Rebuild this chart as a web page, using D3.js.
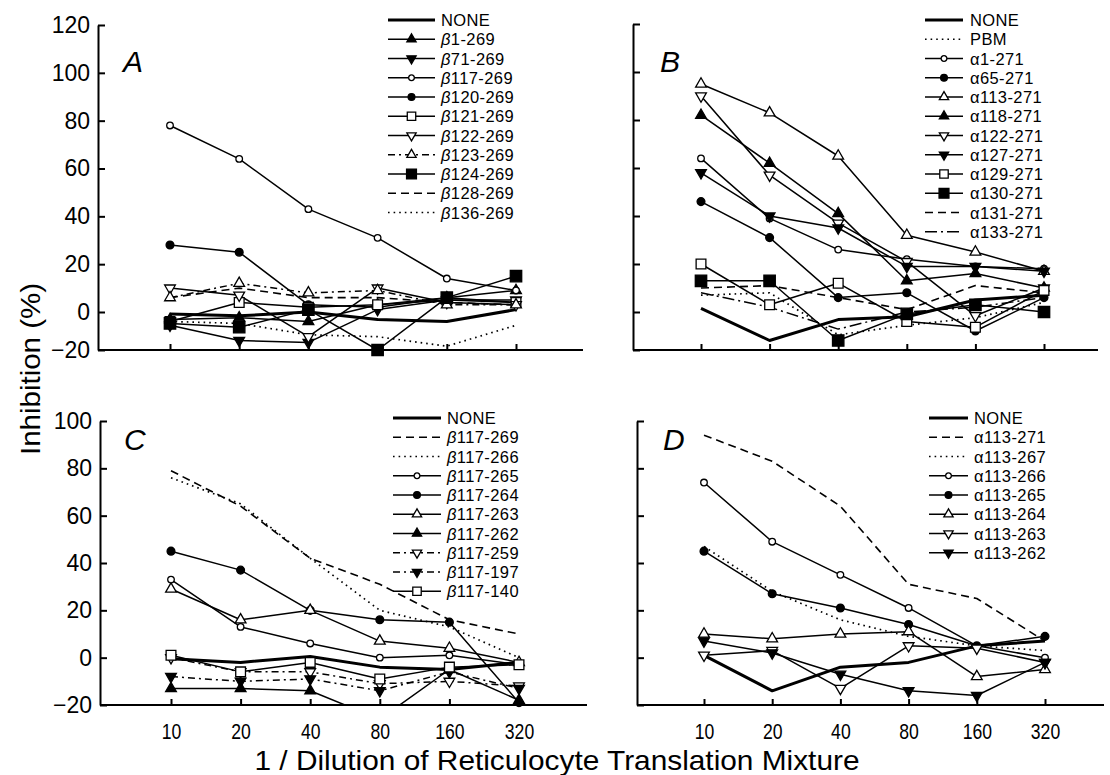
<!DOCTYPE html>
<html>
<head>
<meta charset="utf-8">
<script src="https://cdn.jsdelivr.net/npm/d3@7"></script>
<style>
  body { margin: 0; background: #fff; }
  svg { display: block; font-family: "Liberation Sans", Arial, sans-serif; }
</style>
</head>
<body>
<div id="chart"></div>
<script>
// x categories and y ticks
const dilutions = ["10", "20", "40", "80", "160", "320"];
const ticksTop = [-20, 0, 20, 40, 60, 80, 100, 120];
const ticksBottom = [-20, 0, 20, 40, 60, 80, 100];

// Panel A
const namesA = ["NONE", "β1-269", "β71-269", "β117-269", "β120-269", "β121-269",
  "β122-269", "β123-269", "β124-269", "β128-269", "β136-269"];
const valuesA = [
  [-1, -2, 0, -4, -5, 1],
  [-4, -3, -5, 3, 6, 9],
  [-7, -15, -16, 1, 5, 5],
  [78, 64, 43, 31, 14, 9],
  [28, 25, 3, 2, 6, 4],
  [-5, 4, 2, 3, 5, 4],
  [10, 7, -13, 10, 4, 3],
  [6, 12, 8, 9, 3, 3],
  [-6, -8, 1, -20, 6, 15],
  [6, 10, 6, 6, 4, 3],
  [-5, -6, -12, -13, -18, -7]
];

// Panel B
const namesB = ["NONE", "PBM", "α1-271", "α65-271", "α113-271", "α118-271", "α122-271",
  "α127-271", "α129-271", "α130-271", "α131-271", "α133-271"];
const valuesB = [
  [1.5, -15, -4, -2.5, 5, 7],
  [7, 8, -12, -7, -3, 4],
  [64, 39, 26, 22, 19, 18],
  [46, 31, 6, 8, -10, 6],
  [95, 83, 65, 32, 25, 17],
  [82, 62, 41, 13, 16, 10],
  [90, 57, 37, 21, -2, 10],
  [58, 40, 35, 19, 19, 17],
  [20, 3, 12, -5, -8, 9],
  [13, 13, -15, -1, 3, 0],
  [10, 11, 6, 1, 11, 8],
  [8, 2, -9, 0, 2, 6]
];

// Panel C
const namesC = ["NONE", "β117-269", "β117-266", "β117-265", "β117-264", "β117-263",
  "β117-262", "β117-259", "β117-197", "β117-140"];
const valuesC = [
  [-0.5, -2, 0.5, -4, -5, -2],
  [79, 64, 42, 31, 16, 10],
  [76, 65, 42, 20, 13, 0],
  [33, 13, 6, 0, 1, -3],
  [45, 37, 20, 16, 15, -19],
  [29, 16, 20, 7, 4, -2],
  [-13, -13, -14, -26, -5, -18],
  [0, -6, -6, -11, -10, -12],
  [-8, -10, -9, -14, -6, -13],
  [1, -6, -2, -9, -4, -3]
];

// Panel D
const namesD = ["NONE", "α113-271", "α113-267", "α113-266", "α113-265", "α113-264",
  "α113-263", "α113-262"];
const valuesD = [
  [1, -14, -4, -2, 5, 7],
  [94, 83, 64, 31, 25, 7],
  [47, 28, 16, 9, 5, 3],
  [74, 49, 35, 21, 5, 0],
  [45, 27, 21, 14, 5, 9],
  [10, 8, 10, 11, -8, -5],
  [1, 3, -13, 5, 4, -2],
  [7, 2, -7, -14, -16, -2]
];

// marker and line style of every series
const marksA = [null, "ft", "fd", "oc", "fc", "os", "od", "ot", "fs", null, null];
const linesA = ["thick", "solid", "solid", "solid", "solid", "solid", "solid", "dashdot", "solid", "dash", "dot"];
const marksB = [null, null, "oc", "fc", "ot", "ft", "od", "fd", "os", "fs", null, null];
const linesB = ["thick", "dot", "solid", "solid", "solid", "solid", "solid", "solid", "solid", "solid", "dash", "longdashdot"];
const marksC = [null, null, null, "oc", "fc", "ot", "ft", "od", "fd", "os"];
const linesC = ["thick", "dash", "dot", "solid", "solid", "solid", "solid", "dashdot", "dashdot", "solid"];
const marksD = [null, null, null, "oc", "fc", "ot", "od", "fd"];
const linesD = ["thick", "dash", "dot", "solid", "solid", "solid", "solid", "solid"];

const lineStyle = {
  thick: { w: 3, dash: null },
  solid: { w: 1.5, dash: null },
  dash: { w: 1.6, dash: "8,5" },
  dot: { w: 1.7, dash: "1.6,4" },
  dashdot: { w: 1.5, dash: "7,4,2,4" },
  longdashdot: { w: 1.5, dash: "12,4,2,4" }
};

const markStyle = {
  oc: { type: d3.symbolCircle, size: 34, fill: "#fff", rot: 0 },
  fc: { type: d3.symbolCircle, size: 48, fill: "#000", rot: 0 },
  os: { type: d3.symbolSquare, size: 95, fill: "#fff", rot: 0 },
  fs: { type: d3.symbolSquare, size: 130, fill: "#000", rot: 0 },
  ot: { type: d3.symbolTriangle, size: 50, fill: "#fff", rot: 0 },
  ft: { type: d3.symbolTriangle, size: 50, fill: "#000", rot: 0 },
  od: { type: d3.symbolTriangle, size: 50, fill: "#fff", rot: 180 },
  fd: { type: d3.symbolTriangle, size: 50, fill: "#000", rot: 180 }
};

const svg = d3.select("#chart").append("svg")
  .attr("width", 1110)
  .attr("height", 775);

const panels = [
  { letter: "A", names: namesA, values: valuesA, marks: marksA, lines: linesA,
    ticks: ticksTop, yDomain: [-20, 0, 120], yRange: [350, 312, 25],
    axisX: [98, 583], xRange: [170, 516], yLabels: true, xLabels: false,
    letterPos: [123, 72], legend: { x0: 388, x1: 435, tx: 441, y0: 20 } },
  { letter: "B", names: namesB, values: valuesB, marks: marksB, lines: linesB,
    ticks: ticksTop, yDomain: [-20, 0, 120], yRange: [350, 312, 24],
    axisX: [633, 1098], xRange: [701, 1044], yLabels: false, xLabels: false,
    letterPos: [660, 72], legend: { x0: 925, x1: 963, tx: 970, y0: 20 } },
  { letter: "C", names: namesC, values: valuesC, marks: marksC, lines: linesC,
    ticks: ticksBottom, yDomain: [-20, 100], yRange: [705, 421],
    axisX: [100, 587], xRange: [171, 519], yLabels: true, xLabels: true,
    letterPos: [124, 450], legend: { x0: 393, x1: 441, tx: 447, y0: 418 } },
  { letter: "D", names: namesD, values: valuesD, marks: marksD, lines: linesD,
    ticks: ticksBottom, yDomain: [-20, 100], yRange: [705, 421],
    axisX: [637, 1104], xRange: [704, 1045], yLabels: false, xLabels: true,
    letterPos: [663, 450], legend: { x0: 929, x1: 968, tx: 974, y0: 418 } }
];

function drawMark(g, kind, cx, cy, k) {
  if (!kind) return;
  const m = markStyle[kind];
  g.append("path")
    .attr("d", d3.symbol().type(m.type).size(m.size * k)())
    .attr("transform", `translate(${cx},${cy}) rotate(${m.rot})`)
    .attr("fill", m.fill)
    .attr("stroke", "#000")
    .attr("stroke-width", 1.3);
}

panels.forEach((p, pi) => {
  const x = d3.scalePoint().domain(dilutions).range(p.xRange);
  const y = d3.scaleLinear().domain(p.yDomain).range(p.yRange);
  const bottom = p.yRange[0];
  const top = p.yRange[p.yRange.length - 1];
  const g = svg.append("g");

  // y axis, ticks pointing inward
  const yAxis = d3.axisLeft(y).tickValues(p.ticks).tickSize(-7).tickSizeOuter(0).tickPadding(8);
  if (!p.yLabels) yAxis.tickFormat("");
  const ya = g.append("g").attr("transform", `translate(${p.axisX[0]},0)`).call(yAxis);
  ya.selectAll("path, line").attr("stroke", "#000").attr("stroke-width", 2);
  ya.selectAll("text").attr("font-size", 23).attr("fill", "#000");

  // x axis
  const xAxis = d3.axisBottom(x).tickSize(-6).tickSizeOuter(0).tickPadding(18);
  if (!p.xLabels) xAxis.tickFormat("");
  const xa = g.append("g").attr("transform", `translate(0,${bottom})`).call(xAxis);
  xa.select(".domain").remove();
  xa.selectAll("line").attr("stroke", "#000").attr("stroke-width", 2);
  xa.selectAll("text").attr("font-size", 22).attr("fill", "#000")
    .attr("transform", "scale(0.8,1)");
  g.append("line")
    .attr("x1", p.axisX[0]).attr("x2", p.axisX[1])
    .attr("y1", bottom).attr("y2", bottom)
    .attr("stroke", "#000").attr("stroke-width", 2);

  // clip for lines running below the axis
  const clipId = "clip" + pi;
  svg.append("clipPath").attr("id", clipId).append("rect")
    .attr("x", p.axisX[0]).attr("y", top - 20)
    .attr("width", p.axisX[1] - p.axisX[0]).attr("height", bottom - top + 20);

  const line = d3.line()
    .x((d, i) => x(dilutions[i]))
    .y(d => y(d));

  const series = g.append("g");
  p.values.forEach((vals, si) => {
    const ls = lineStyle[p.lines[si]];
    series.append("path")
      .datum(vals)
      .attr("d", line)
      .attr("fill", "none")
      .attr("stroke", "#000")
      .attr("stroke-width", ls.w)
      .attr("stroke-dasharray", ls.dash)
      .attr("stroke-linejoin", "round")
      .attr("clip-path", `url(#${clipId})`);
  });
  p.values.forEach((vals, si) => {
    vals.forEach((v, i) => {
      // points below the axis fall off the chart
      if (v < p.yDomain[0]) return;
      drawMark(series, p.marks[si], x(dilutions[i]), y(v), 1);
    });
  });

  // panel letter
  g.append("text")
    .attr("x", p.letterPos[0]).attr("y", p.letterPos[1])
    .attr("font-size", 30).attr("font-style", "italic")
    .text(p.letter);

  // legend
  const lg = g.append("g");
  p.names.forEach((name, si) => {
    const ly = p.legend.y0 + si * 19.25;
    const ls = lineStyle[p.lines[si]];
    lg.append("line")
      .attr("x1", p.legend.x0).attr("x2", p.legend.x1)
      .attr("y1", ly).attr("y2", ly)
      .attr("stroke", "#000")
      .attr("stroke-width", p.lines[si] === "thick" ? 3 : Math.max(ls.w, 1.6))
      .attr("stroke-dasharray", ls.dash);
    drawMark(lg, p.marks[si], (p.legend.x0 + p.legend.x1) / 2, ly, 0.75);
    const t = lg.append("text")
      .attr("x", p.legend.tx).attr("y", ly + 6)
      .attr("font-size", 16.5)
      .attr("letter-spacing", 0.4);
    if (name.startsWith("β")) {
      t.append("tspan").attr("font-style", "italic").text("β");
      t.append("tspan").text(name.slice(1));
    } else {
      t.text(name);
    }
  });
});

// shared axis titles
svg.append("text")
  .attr("x", 557).attr("y", 770)
  .attr("text-anchor", "middle")
  .attr("font-size", 28)
  .attr("textLength", 605)
  .attr("lengthAdjust", "spacingAndGlyphs")
  .text("1 / Dilution of Reticulocyte Translation Mixture");

svg.append("text")
  .attr("transform", "translate(40,369) rotate(-90)")
  .attr("text-anchor", "middle")
  .attr("font-size", 28)
  .attr("textLength", 172)
  .attr("lengthAdjust", "spacingAndGlyphs")
  .text("Inhibition (%)");
</script>
</body>
</html>
